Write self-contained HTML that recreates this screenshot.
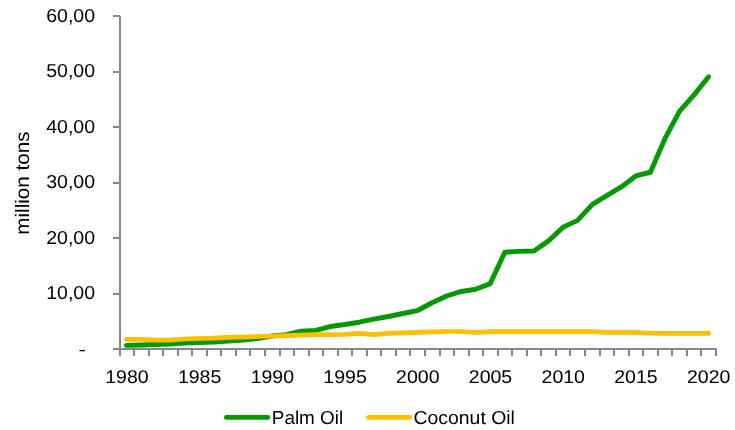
<!DOCTYPE html>
<html><head><meta charset="utf-8"><title>Palm Oil and Coconut Oil</title>
<style>html,body{margin:0;padding:0;background:#fff;}body{width:735px;height:430px;overflow:hidden;}svg{display:block;}text{font-family:"Liberation Sans",sans-serif;text-rendering:geometricPrecision;fill:#000;}</style></head><body>
<svg width="735" height="430" viewBox="0 0 735 430">
<rect width="735" height="430" fill="#ffffff"/>
<polyline points="126.40,345.40 140.96,344.96 155.51,344.46 170.06,343.96 184.62,343.02 199.18,342.52 213.73,341.91 228.28,341.02 242.84,339.91 257.39,338.52 271.95,336.02 286.50,334.64 301.06,331.25 315.62,330.42 330.17,326.53 344.73,324.54 359.28,322.20 373.84,319.15 388.39,316.49 402.95,313.55 417.50,310.55 432.05,302.78 446.61,296.01 461.16,291.46 475.72,289.29 490.27,283.58 504.83,252.27 519.38,251.39 533.94,251.05 548.50,240.90 563.05,227.30 577.61,220.36 592.16,204.66 606.72,195.55 621.27,186.90 635.83,175.96 650.38,172.24 664.93,138.67 679.49,111.42 694.04,94.88 708.60,76.78" fill="none" stroke="#049904" stroke-width="4.95" stroke-linecap="round" stroke-linejoin="round"/>
<polyline points="126.40,339.29 140.96,339.29 155.51,340.12 170.06,340.12 184.62,339.01 199.18,338.45 213.73,338.18 228.28,337.35 242.84,337.07 257.39,336.51 271.95,336.07 286.50,335.68 301.06,335.12 315.62,334.57 330.17,334.57 344.73,334.29 359.28,333.46 373.84,334.57 388.39,333.46 402.95,332.90 417.50,332.35 432.05,331.80 446.61,331.52 461.16,331.52 475.72,332.35 490.27,331.68 504.83,331.63 519.38,331.63 533.94,331.63 548.50,331.63 563.05,331.63 577.61,331.63 592.16,331.63 606.72,332.35 621.27,332.35 635.83,332.35 650.38,333.24 664.93,333.29 679.49,333.29 694.04,333.29 708.60,333.35" fill="none" stroke="#fdbf00" stroke-width="4.7" stroke-linecap="round" stroke-linejoin="round"/>
<path d="M119 16H121V356H119ZM113 348H717V350H113ZM113 293H120V295H113ZM113 237H120V239H113ZM113 182H120V184H113ZM113 126H120V128H113ZM113 71H120V73H113ZM113 15H120V17H113ZM133 349H135V356H133ZM148 349H150V356H148ZM162 349H164V356H162ZM177 349H179V356H177ZM191 349H193V356H191ZM206 349H208V356H206ZM220 349H222V356H220ZM235 349H237V356H235ZM249 349H251V356H249ZM264 349H266V356H264ZM279 349H281V356H279ZM293 349H295V356H293ZM308 349H310V356H308ZM322 349H324V356H322ZM337 349H339V356H337ZM351 349H353V356H351ZM366 349H368V356H366ZM380 349H382V356H380ZM395 349H397V356H395ZM409 349H411V356H409ZM424 349H426V356H424ZM439 349H441V356H439ZM453 349H455V356H453ZM468 349H470V356H468ZM482 349H484V356H482ZM497 349H499V356H497ZM511 349H513V356H511ZM526 349H528V356H526ZM540 349H542V356H540ZM555 349H557V356H555ZM569 349H571V356H569ZM584 349H586V356H584ZM599 349H601V356H599ZM613 349H615V356H613ZM628 349H630V356H628ZM642 349H644V356H642ZM657 349H659V356H657ZM671 349H673V356H671ZM686 349H688V356H686ZM700 349H702V356H700ZM715 349H717V356H715Z" fill="#868686" shape-rendering="crispEdges"/>
<text x="95.1" y="299" font-size="18.6" text-anchor="end" textLength="48.9" lengthAdjust="spacingAndGlyphs">10,00</text>
<text x="95.1" y="244" font-size="18.6" text-anchor="end" textLength="48.9" lengthAdjust="spacingAndGlyphs">20,00</text>
<text x="95.1" y="188" font-size="18.6" text-anchor="end" textLength="48.9" lengthAdjust="spacingAndGlyphs">30,00</text>
<text x="95.1" y="133" font-size="18.6" text-anchor="end" textLength="48.9" lengthAdjust="spacingAndGlyphs">40,00</text>
<text x="95.1" y="77" font-size="18.6" text-anchor="end" textLength="48.9" lengthAdjust="spacingAndGlyphs">50,00</text>
<text x="95.1" y="22" font-size="18.6" text-anchor="end" textLength="48.9" lengthAdjust="spacingAndGlyphs">60,00</text>
<text transform="translate(78.4 355.3) scale(1.2 0.9)" font-size="18.40">-</text>
<text x="126.90" y="382.8" font-size="18.40" text-anchor="middle" textLength="43.4" lengthAdjust="spacingAndGlyphs">1980</text>
<text x="199.62" y="382.8" font-size="18.40" text-anchor="middle" textLength="43.4" lengthAdjust="spacingAndGlyphs">1985</text>
<text x="272.35" y="382.8" font-size="18.40" text-anchor="middle" textLength="43.4" lengthAdjust="spacingAndGlyphs">1990</text>
<text x="345.08" y="382.8" font-size="18.40" text-anchor="middle" textLength="43.4" lengthAdjust="spacingAndGlyphs">1995</text>
<text x="417.80" y="382.8" font-size="18.40" text-anchor="middle" textLength="43.4" lengthAdjust="spacingAndGlyphs">2000</text>
<text x="490.52" y="382.8" font-size="18.40" text-anchor="middle" textLength="43.4" lengthAdjust="spacingAndGlyphs">2005</text>
<text x="563.25" y="382.8" font-size="18.40" text-anchor="middle" textLength="43.4" lengthAdjust="spacingAndGlyphs">2010</text>
<text x="635.98" y="382.8" font-size="18.40" text-anchor="middle" textLength="43.4" lengthAdjust="spacingAndGlyphs">2015</text>
<text x="708.70" y="382.8" font-size="18.40" text-anchor="middle" textLength="43.4" lengthAdjust="spacingAndGlyphs">2020</text>
<text transform="translate(29.1 183.1) rotate(-90)" font-size="19.5" text-anchor="middle" textLength="103.2" lengthAdjust="spacingAndGlyphs">million tons</text>
<path d="M226.4 417.45H267.9" stroke="#049904" stroke-width="4.8" stroke-linecap="round" fill="none"/>
<text x="271.8" y="424.2" font-size="18.8" textLength="71.4" lengthAdjust="spacingAndGlyphs">Palm Oil</text>
<path d="M368.6 417.45H409.8" stroke="#fdbf00" stroke-width="4.8" stroke-linecap="round" fill="none"/>
<text x="413.5" y="424.2" font-size="18.8" textLength="101.4" lengthAdjust="spacingAndGlyphs">Coconut Oil</text>
</svg></body></html>
